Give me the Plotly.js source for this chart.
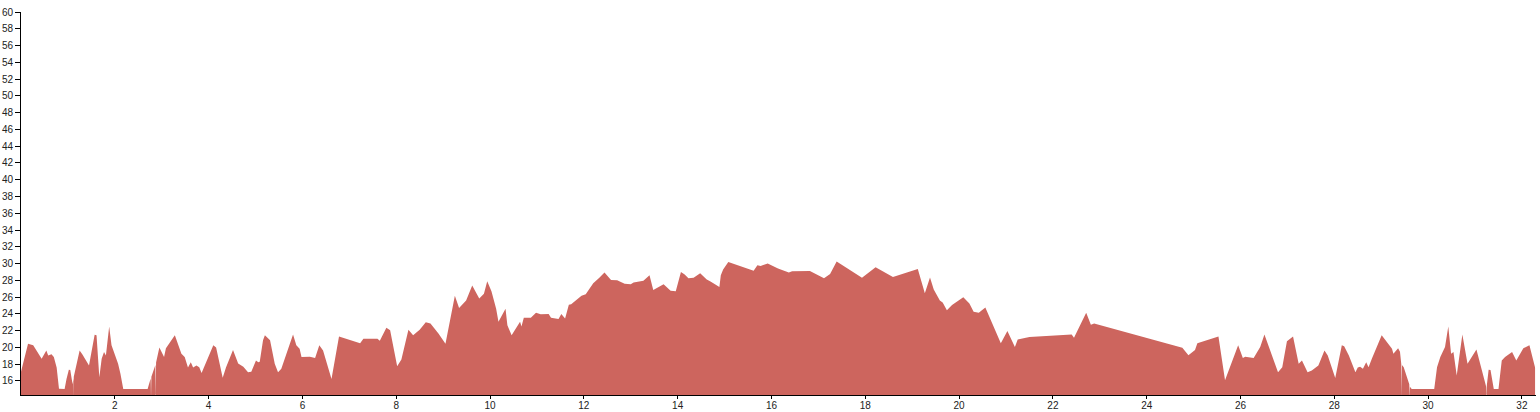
<!DOCTYPE html>
<html>
<head>
<meta charset="utf-8">
<script src="https://cdn.plot.ly/plotly-3.0.1.min.js"></script>
<style>
html,body{margin:0;padding:0;background:#fff;}
#chart{width:1540px;height:412px;}
</style>
</head>
<body>
<div id="chart"></div>
<script>
var distance = [
  0.0, 0.15, 0.26, 0.44, 0.54, 0.58, 0.65, 0.70, 0.76, 0.81, 0.93, 0.97, 1.02, 1.05, 1.10, 1.117, 1.12, 1.125, 1.25, 1.31, 1.45,
  1.57, 1.61, 1.67, 1.72, 1.77, 1.81, 1.88, 1.93, 2.07, 2.12, 2.18, 2.70, 2.73, 2.765, 2.772, 2.78,
  2.865, 2.872, 2.88, 2.95, 3.05, 3.09, 3.28, 3.42, 3.49, 3.56, 3.62, 3.67, 3.74, 3.80, 3.85,
  4.10, 4.16, 4.30, 4.37, 4.52, 4.63, 4.74, 4.84, 4.91, 5.01, 5.06, 5.09, 5.16, 5.20, 5.31,
  5.41, 5.48, 5.55, 5.80, 5.87, 5.94, 5.98, 6.16, 6.27, 6.36, 6.44, 6.62, 6.78, 7.23, 7.30,
  7.60, 7.65, 7.79, 7.87, 8.02, 8.11, 8.26, 8.36, 8.50, 8.63, 8.73, 8.90, 9.05, 9.25, 9.34,
  9.49, 9.62, 9.77, 9.87, 9.94, 10.03, 10.13, 10.18, 10.33, 10.37, 10.46, 10.64, 10.67, 10.72,
  10.87, 10.98, 11.08, 11.25, 11.30, 11.46, 11.52, 11.60, 11.68, 11.73, 11.95, 12.04, 12.20,
  12.33, 12.44, 12.58, 12.71, 12.87, 13.00, 13.06, 13.27, 13.40, 13.48, 13.70, 13.85, 13.96,
  14.07, 14.15, 14.23, 14.34, 14.48, 14.62, 14.70, 14.89, 14.92, 14.97, 15.08, 15.62, 15.70,
  15.77, 15.81, 15.92, 16.14, 16.37, 16.44, 16.82, 17.12, 17.25, 17.39, 17.93, 18.22, 18.59,
  19.12, 19.27, 19.38, 19.46, 19.59, 19.65, 19.74, 19.85, 20.09, 20.22, 20.31, 20.42, 20.56,
  20.89, 21.03, 21.19, 21.25, 21.45, 21.50, 22.40, 22.45, 22.71, 22.81, 22.88, 24.76, 24.89,
  25.03, 25.08, 25.53, 25.67, 25.95, 26.05, 26.10, 26.28, 26.42, 26.51, 26.80, 26.89, 26.99,
  27.12, 27.24, 27.31, 27.43, 27.52, 27.66, 27.79, 27.86, 28.02, 28.16, 28.21, 28.31, 28.45,
  28.50, 28.55, 28.61, 28.68, 28.73, 28.80, 29.01, 29.23, 29.26, 29.36, 29.40, 29.428, 29.435,
  29.442, 29.48, 29.598, 29.605, 29.612, 29.65, 30.13, 30.19, 30.26, 30.36, 30.43, 30.49, 30.54,
  30.61, 30.73, 30.84, 31.03, 31.238, 31.245, 31.252, 31.29, 31.33, 31.40, 31.50, 31.57, 31.64,
  31.79, 31.88, 32.03, 32.16, 32.28
];
var speed = [
  17.1, 20.45, 20.25, 18.65, 19.65, 19.05, 19.2, 18.85, 17.6, 15.07, 15.05, 16.25, 17.35, 17.3, 15.6, 16.3, 14.0, 16.5, 19.65, 19.15, 17.85,
  21.5, 21.45, 16.45, 18.65, 19.45, 19.05, 22.5, 20.25, 18.05, 16.85, 15.05, 15.05, 15.65, 16.3, 14.0, 16.5,
  17.9, 14.0, 18.2, 20.0, 18.85, 19.9, 21.45, 19.25, 18.85, 17.6, 18.25, 17.6, 17.85, 17.65, 16.95,
  20.25, 20.0, 16.4, 17.6, 19.7, 18.1, 17.7, 17.05, 17.1, 18.45, 18.25, 18.3, 20.85, 21.45, 20.85,
  18.05, 17.05, 17.45, 21.55, 20.25, 19.85, 18.85, 18.9, 18.75, 20.25, 19.65, 16.25, 21.3, 20.5, 21.05,
  21.05, 20.8, 22.35, 22.05, 17.75, 18.55, 22.1, 21.45, 22.1, 23.0, 22.85, 21.65, 20.45, 26.15, 24.7,
  25.6, 27.4, 25.85, 26.4, 27.9, 26.7, 24.6, 23.05, 24.6, 22.65, 21.45, 23.05, 22.5, 23.55,
  23.55, 24.15, 23.95, 24.0, 23.55, 23.4, 24.0, 23.45, 25.1, 25.15, 26.15, 26.35, 27.65,
  28.3, 28.95, 28.05, 28.0, 27.6, 27.55, 27.75, 27.95, 28.6, 26.85, 27.55, 26.75, 26.7,
  29.0, 28.7, 28.25, 28.3, 28.85, 28.1, 27.85, 27.2, 28.6, 29.3, 30.2, 29.15, 29.8,
  29.7, 29.8, 30.0, 29.4, 28.95, 29.1, 29.12, 28.25, 28.75, 30.25, 28.3, 29.55, 28.4,
  29.35, 26.45, 28.35, 26.9, 25.6, 25.35, 24.45, 25.05, 26.0, 25.25, 24.25, 24.15, 24.75,
  20.5, 21.95, 20.05, 20.95, 21.2, 21.25, 21.55, 21.15, 24.15, 22.7, 22.85, 19.95, 19.08,
  19.7, 20.5, 21.3, 16.1, 20.25, 18.75, 18.9, 18.75, 20.05, 21.55, 17.05, 17.65, 20.75,
  21.3, 18.05, 18.45, 17.05, 17.25, 17.85, 19.65, 19.05, 16.35, 20.25, 20.15, 19.05, 17.05,
  17.6, 17.7, 17.45, 18.25, 17.65, 18.65, 21.45, 19.85, 19.25, 19.9, 19.5, 18.0, 14.0,
  17.9, 17.65, 15.6, 14.0, 15.3, 15.05, 15.05, 17.65, 18.85, 20.05, 22.5, 19.25, 19.45,
  16.65, 21.55, 18.05, 19.75, 15.3, 14.0, 15.5, 17.35, 17.3, 15.05, 15.05, 18.45, 18.85,
  19.45, 18.45, 19.9, 20.25, 17.6
];
var yTickValues = [16,18,20,22,24,26,28,30,32,34,36,38,40,42,44,46,48,50,52,54,56,58,60];
var xTickValues = [2,4,6,8,10,12,14,16,18,20,22,24,26,28,30,32];

var trace = {
  x: distance,
  y: speed,
  type: 'scatter',
  mode: 'none',
  fill: 'tozeroy',
  fillcolor: '#cd655e',
  hoverinfo: 'none'
};

var axisFont = {family: 'Liberation Sans, Arial, sans-serif', size: 10, color: '#222'};

var layout = {
  width: 1540,
  height: 412,
  margin: {l: 21, r: 4, t: 12, b: 17, pad: 0},
  paper_bgcolor: '#fff',
  plot_bgcolor: '#fff',
  showlegend: false,
  xaxis: {
    range: [0, 32.3],
    tickmode: 'array',
    tickvals: xTickValues,
    ticktext: xTickValues.map(String),
    showgrid: false,
    zeroline: false,
    showline: true,
    linecolor: '#000',
    linewidth: 1,
    ticks: 'outside',
    ticklen: 3,
    tickcolor: '#000',
    tickfont: axisFont,
    ticklabelstandoff: -2,
    automargin: false,
    fixedrange: true
  },
  yaxis: {
    range: [14.33, 60],
    tickmode: 'array',
    tickvals: yTickValues,
    ticktext: yTickValues.map(String),
    showgrid: false,
    zeroline: false,
    showline: true,
    linecolor: '#000',
    linewidth: 1,
    ticks: 'outside',
    ticklen: 5,
    tickcolor: '#000',
    tickfont: axisFont,
    automargin: false,
    fixedrange: true
  }
};

Plotly.newPlot('chart', [trace], layout, {staticPlot: true, displayModeBar: false});
</script>
</body>
</html>
